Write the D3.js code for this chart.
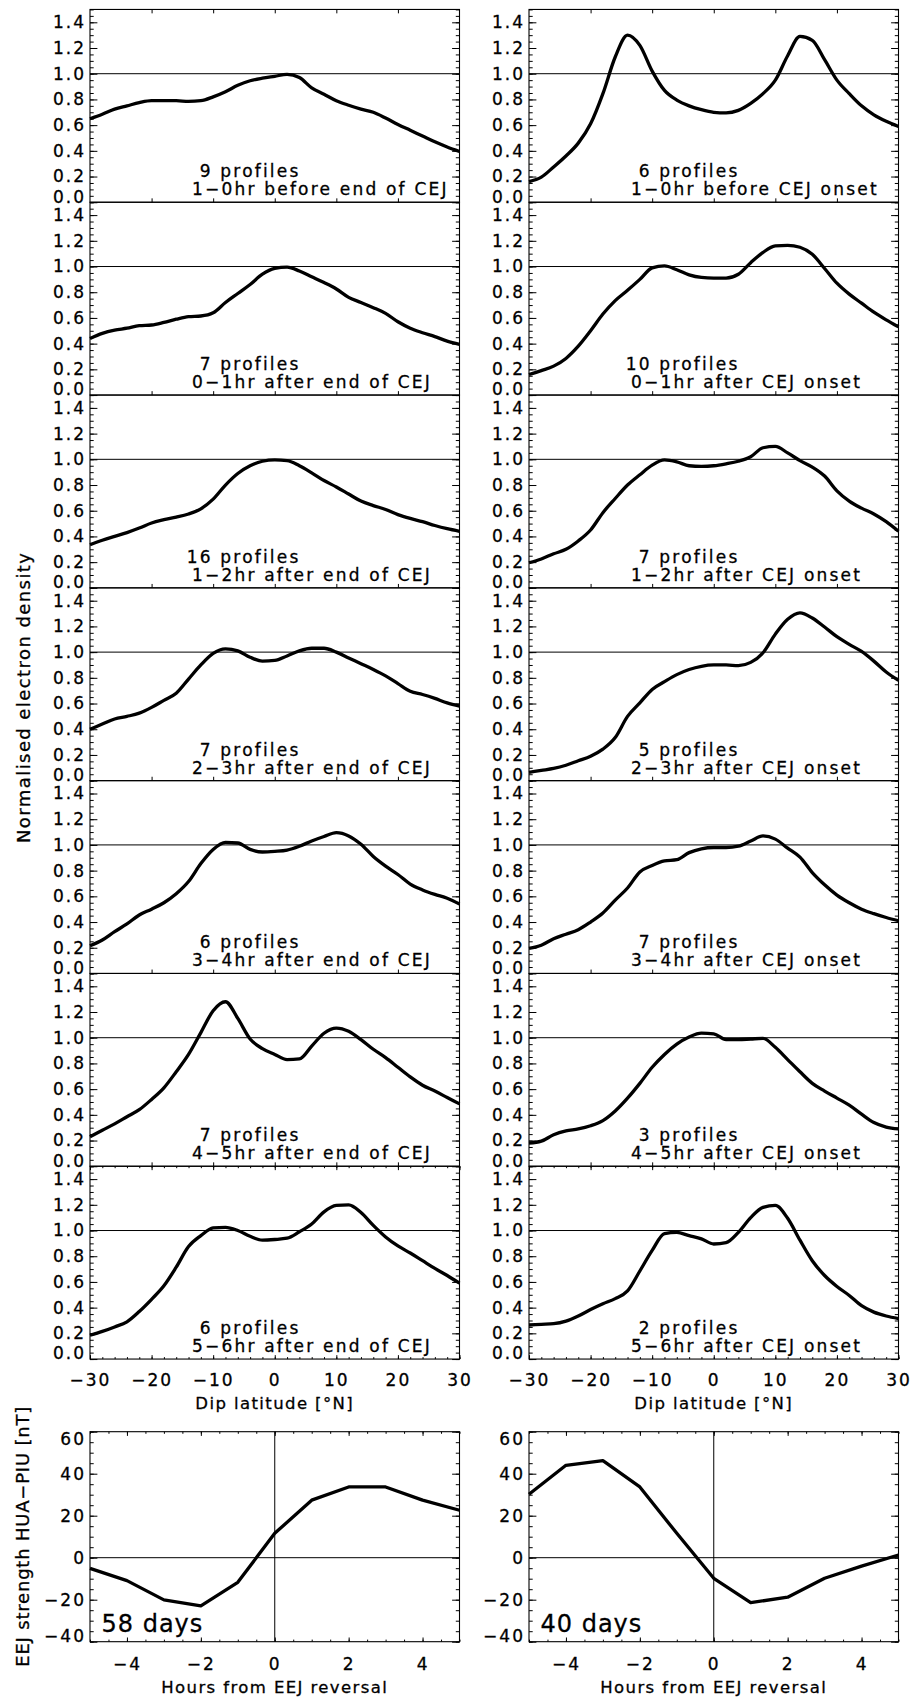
<!DOCTYPE html>
<html>
<head>
<meta charset="utf-8">
<script src="https://cdn.jsdelivr.net/npm/d3@7"></script>
<style>
  body { margin: 0; background: #fff; }
  svg text { font-family: "DejaVu Sans", sans-serif; fill: #000; stroke: #000; stroke-width: 0.3px; }
  .tick text { font-size: 17px; letter-spacing: 2px; }
  .note { font-size: 17px; letter-spacing: 2.2px; }
  .title { font-size: 16.5px; letter-spacing: 1.4px; }
  .ytitle { font-size: 18px; }
  .days { font-size: 24px; letter-spacing: 1px; }
</style>
</head>
<body>
<script>
// dip latitude grid of the profiles
const lat = [-30, -28, -26, -24, -22, -20, -18, -16, -14, -12, -10, -8, -6, -4, -2, 0,
             2, 4, 6, 8, 10, 12, 14, 16, 18, 20, 22, 24, 26, 28, 30];

// left column: relative to end of CEJ
const endProfiles = [
  [0.65,0.685,0.725,0.75,0.775,0.79,0.79,0.79,0.785,0.79,0.82,0.86,0.91,0.945,0.965,0.98,0.995,0.97,0.89,0.84,0.79,0.755,0.725,0.70,0.655,0.605,0.56,0.515,0.47,0.43,0.395],
  [0.44,0.48,0.505,0.52,0.54,0.545,0.565,0.59,0.61,0.615,0.64,0.72,0.79,0.86,0.94,0.985,0.995,0.965,0.92,0.875,0.825,0.76,0.72,0.68,0.635,0.57,0.52,0.485,0.455,0.42,0.395],
  [0.335,0.37,0.40,0.43,0.465,0.505,0.53,0.55,0.575,0.615,0.69,0.80,0.89,0.95,0.985,0.995,0.99,0.95,0.895,0.835,0.785,0.73,0.675,0.64,0.61,0.57,0.54,0.515,0.485,0.46,0.44],
  [0.40,0.44,0.48,0.50,0.525,0.57,0.625,0.68,0.79,0.90,0.99,1.025,1.01,0.96,0.93,0.935,0.97,1.01,1.03,1.03,1.0,0.955,0.91,0.865,0.815,0.755,0.695,0.67,0.64,0.605,0.58],
  [0.215,0.26,0.325,0.385,0.455,0.50,0.55,0.62,0.715,0.855,0.965,1.02,1.015,0.965,0.945,0.95,0.96,0.99,1.03,1.065,1.095,1.07,1.005,0.91,0.835,0.77,0.695,0.65,0.615,0.585,0.54],
  [0.23,0.28,0.33,0.385,0.44,0.52,0.61,0.735,0.87,1.04,1.21,1.28,1.15,0.99,0.915,0.87,0.83,0.835,0.935,1.035,1.075,1.05,0.985,0.91,0.845,0.77,0.695,0.63,0.585,0.535,0.485],
  [0.185,0.215,0.25,0.29,0.37,0.465,0.57,0.715,0.875,0.96,1.02,1.025,1.0,0.955,0.925,0.93,0.94,0.99,1.05,1.145,1.195,1.2,1.14,1.04,0.95,0.88,0.825,0.765,0.705,0.65,0.59]
];
const endCounts = [9, 7, 16, 7, 6, 7, 6];
const endPeriods = ["1−0hr before end of CEJ", "0−1hr after end of CEJ", "1−2hr after end of CEJ",
                    "2−3hr after end of CEJ", "3−4hr after end of CEJ", "4−5hr after end of CEJ",
                    "5−6hr after end of CEJ"];

// right column: relative to CEJ onset
const onsetProfiles = [
  [0.16,0.195,0.275,0.36,0.46,0.61,0.845,1.13,1.30,1.22,1.02,0.87,0.795,0.75,0.72,0.70,0.695,0.715,0.77,0.845,0.95,1.14,1.29,1.26,1.11,0.95,0.845,0.75,0.68,0.63,0.59],
  [0.16,0.19,0.225,0.285,0.38,0.50,0.63,0.735,0.815,0.90,0.99,1.005,0.975,0.935,0.915,0.91,0.91,0.94,1.03,1.11,1.16,1.165,1.15,1.095,0.985,0.87,0.785,0.715,0.645,0.585,0.53],
  [0.195,0.225,0.265,0.30,0.365,0.45,0.585,0.695,0.80,0.88,0.955,0.995,0.98,0.95,0.945,0.95,0.965,0.985,1.02,1.09,1.10,1.05,0.99,0.94,0.87,0.755,0.675,0.62,0.575,0.515,0.44],
  [0.065,0.08,0.095,0.12,0.155,0.19,0.245,0.335,0.50,0.605,0.71,0.77,0.825,0.865,0.89,0.90,0.90,0.895,0.92,0.995,1.14,1.255,1.305,1.265,1.195,1.12,1.06,1.005,0.93,0.845,0.78],
  [0.195,0.22,0.27,0.305,0.34,0.40,0.47,0.57,0.665,0.79,0.84,0.875,0.885,0.94,0.97,0.98,0.98,0.99,1.03,1.07,1.045,0.975,0.905,0.785,0.69,0.61,0.55,0.50,0.465,0.435,0.41],
  [0.18,0.195,0.245,0.275,0.29,0.315,0.355,0.43,0.53,0.645,0.77,0.87,0.95,1.005,1.035,1.03,0.985,0.985,0.99,0.995,0.925,0.83,0.735,0.645,0.585,0.53,0.475,0.405,0.34,0.305,0.29],
  [0.265,0.27,0.275,0.295,0.335,0.385,0.43,0.47,0.53,0.685,0.845,0.975,0.985,0.96,0.935,0.895,0.905,0.985,1.10,1.18,1.195,1.095,0.925,0.765,0.65,0.565,0.495,0.415,0.365,0.335,0.315]
];
const onsetCounts = [6, 10, 7, 5, 7, 3, 2];
const onsetPeriods = ["1−0hr before CEJ onset", "0−1hr after CEJ onset", "1−2hr after CEJ onset",
                      "2−3hr after CEJ onset", "3−4hr after CEJ onset", "4−5hr after CEJ onset",
                      "5−6hr after CEJ onset"];

// EEJ strength around the reversal
const hours = [-5, -4, -3, -2, -1, 0, 1, 2, 3, 4, 5];
const eejEnd = [-5.1, -10.9, -20.1, -22.9, -11.7, 11.6, 27.4, 33.7, 33.7, 27.4, 22.6];
const eejOnset = [30.2, 44, 46.2, 33.7, 11.6, -9.8, -21.4, -18.8, -9.8, -4.0, 1.3];
const eejDays = ["58 days", "40 days"];

// tick values
const densTicks = [0.0, 0.2, 0.4, 0.6, 0.8, 1.0, 1.2, 1.4];
const latTicks = [-30, -20, -10, 0, 10, 20, 30];
const latInner = [-20, -10, 0, 10, 20];
const hourTicks = [-4, -2, 0, 2, 4];
const eejTicks = [-40, -20, 0, 20, 40, 60];

// layout
const colX = [90, 529], PW = 369.5, PH = 192.8, top0 = 9.45;
const eejTop = 1431.7, eejH = 210;

const svg = d3.select("body").append("svg")
  .attr("width", 912).attr("height", 1701)
  .style("background", "#fff");

function ticks(g, gen, tr) {
  const a = g.append("g").attr("transform", tr).call(gen);
  a.select(".domain").remove();
  a.attr("font-family", null).attr("font-size", null);
  a.selectAll(".tick line").attr("stroke-width", 1);
  return a;
}

function frame(g, x0, y0, w, h) {
  g.append("rect").attr("x", x0).attr("y", y0).attr("width", w).attr("height", h)
    .attr("fill", "none").attr("stroke", "#000").attr("stroke-width", 1.1);
}

function densityPanel(c, i, values, count, period) {
  const x0 = colX[c], y0 = top0 + i * PH, bottom = y0 + PH;
  const x = d3.scaleLinear([-30, 30], [x0, x0 + PW]);
  const y = d3.scaleLinear([0, 1.5], [bottom, y0]);
  const g = svg.append("g");

  g.append("line")
    .attr("x1", x(-30)).attr("x2", x(30)).attr("y1", y(1)).attr("y2", y(1))
    .attr("stroke", "#000").attr("stroke-width", 1);

  const line = d3.line().x(d => x(d[0])).y(d => y(d[1])).curve(d3.curveMonotoneX);
  g.append("path")
    .datum(lat.map((d, k) => [d, values[k]]))
    .attr("d", line)
    .attr("fill", "none").attr("stroke", "#000")
    .attr("stroke-width", 3.3).attr("stroke-linejoin", "round");

  frame(g, x0, y0, PW, PH);

  // y axes, both sides, ticks inward
  const minor = y.ticks(30);
  ticks(g, d3.axisLeft(y).tickValues(minor).tickSize(-3.7).tickFormat(""), `translate(${x0},0)`);
  ticks(g, d3.axisRight(y).tickValues(minor).tickSize(-3.7).tickFormat(""), `translate(${x0 + PW},0)`);
  ticks(g, d3.axisRight(y).tickValues(densTicks).tickSize(-7.4).tickFormat(""), `translate(${x0 + PW},0)`);
  const yl = ticks(g, d3.axisLeft(y).tickValues(densTicks).tickSize(-7.4).tickPadding(4)
    .tickFormat(d3.format(".1f")), `translate(${x0},0)`);
  yl.selectAll("text").attr("y", d => Math.min(0, bottom - 5.6 - y(d)));

  // x axes
  if (i < 6) {
    ticks(g, d3.axisBottom(x).tickValues(latInner).tickSize(-3.9).tickFormat(""), `translate(0,${bottom})`);
    if (i === 0) ticks(g, d3.axisTop(x).tickValues(latInner).tickSize(-3.9).tickFormat(""), `translate(0,${y0})`);
  } else {
    const latMinor = x.ticks(30);
    ticks(g, d3.axisBottom(x).tickValues(latMinor).tickSize(-1.95).tickFormat(""), `translate(0,${bottom})`);
    ticks(g, d3.axisTop(x).tickValues(latMinor).tickSize(-1.95).tickFormat(""), `translate(0,${y0})`);
    ticks(g, d3.axisTop(x).tickValues(latTicks).tickSize(-3.9).tickFormat(""), `translate(0,${y0})`);
    ticks(g, d3.axisBottom(x).tickValues(latTicks).tickSize(-3.9).tickPadding(14.5)
      .tickFormat(d3.format("d")), `translate(0,${bottom})`);
    g.append("text").attr("class", "title")
      .attr("x", x0 + PW / 2).attr("y", bottom + 50)
      .attr("text-anchor", "middle").text("Dip latitude [°N]");
  }

  g.append("text").attr("class", "note")
    .attr("x", x0 + 210.5).attr("y", bottom - 25)
    .attr("text-anchor", "end").text(count + " profiles");
  g.append("text").attr("class", "note")
    .attr("x", x0 + 102).attr("y", bottom - 7)
    .text(period);
}

function eejPanel(c, values, label) {
  const x0 = colX[c], y0 = eejTop, bottom = eejTop + eejH;
  const x = d3.scaleLinear([-5, 5], [x0, x0 + PW]);
  const y = d3.scaleLinear([-40, 60], [bottom, y0]);
  const g = svg.append("g");

  g.append("line")
    .attr("x1", x(-5)).attr("x2", x(5)).attr("y1", y(0)).attr("y2", y(0))
    .attr("stroke", "#000").attr("stroke-width", 1);
  g.append("line")
    .attr("x1", x(0)).attr("x2", x(0)).attr("y1", y(-40)).attr("y2", y(60))
    .attr("stroke", "#000").attr("stroke-width", 1);

  g.append("path")
    .datum(hours.map((h, k) => [h, values[k]]))
    .attr("d", d3.line().x(d => x(d[0])).y(d => y(d[1])))
    .attr("fill", "none").attr("stroke", "#000")
    .attr("stroke-width", 3.3).attr("stroke-linejoin", "round");

  frame(g, x0, y0, PW, eejH);

  const yMinor = y.ticks(20);
  ticks(g, d3.axisLeft(y).tickValues(yMinor).tickSize(-3.7).tickFormat(""), `translate(${x0},0)`);
  ticks(g, d3.axisRight(y).tickValues(yMinor).tickSize(-3.7).tickFormat(""), `translate(${x0 + PW},0)`);
  ticks(g, d3.axisRight(y).tickValues(eejTicks).tickSize(-7.4).tickFormat(""), `translate(${x0 + PW},0)`);
  const yl = ticks(g, d3.axisLeft(y).tickValues(eejTicks).tickSize(-7.4).tickPadding(4)
    .tickFormat(d3.format("d")), `translate(${x0},0)`);
  yl.selectAll("text").attr("y", d => Math.max(y0 + 7.3 - y(d), Math.min(0, bottom - 6 - y(d))));

  const xMinor = x.ticks(20);
  ticks(g, d3.axisBottom(x).tickValues(xMinor).tickSize(-2.1).tickFormat(""), `translate(0,${bottom})`);
  ticks(g, d3.axisTop(x).tickValues(xMinor).tickSize(-2.1).tickFormat(""), `translate(0,${y0})`);
  ticks(g, d3.axisTop(x).tickValues(hourTicks).tickSize(-4.2).tickFormat(""), `translate(0,${y0})`);
  ticks(g, d3.axisBottom(x).tickValues(hourTicks).tickSize(-4.2).tickPadding(16)
    .tickFormat(d3.format("d")), `translate(0,${bottom})`);

  g.append("text").attr("class", "title")
    .attr("x", x0 + PW / 2).attr("y", bottom + 51.6)
    .attr("text-anchor", "middle").text("Hours from EEJ reversal");
  g.append("text").attr("class", "days")
    .attr("x", x0 + 11.5).attr("y", bottom - 9.5)
    .text(label);
}

endProfiles.forEach((v, i) => densityPanel(0, i, v, endCounts[i], endPeriods[i]));
onsetProfiles.forEach((v, i) => densityPanel(1, i, v, onsetCounts[i], onsetPeriods[i]));
eejPanel(0, eejEnd, eejDays[0]);
eejPanel(1, eejOnset, eejDays[1]);

// y axis titles
svg.append("text").attr("class", "ytitle")
  .attr("transform", "translate(30,843) rotate(-90)")
  .attr("textLength", 290).attr("lengthAdjust", "spacing")
  .text("Normalised electron density");
svg.append("text").attr("class", "ytitle")
  .attr("transform", "translate(29,1666.7) rotate(-90)")
  .attr("textLength", 260).attr("lengthAdjust", "spacing")
  .text("EEJ strength HUA−PIU [nT]");
</script>
</body>
</html>
